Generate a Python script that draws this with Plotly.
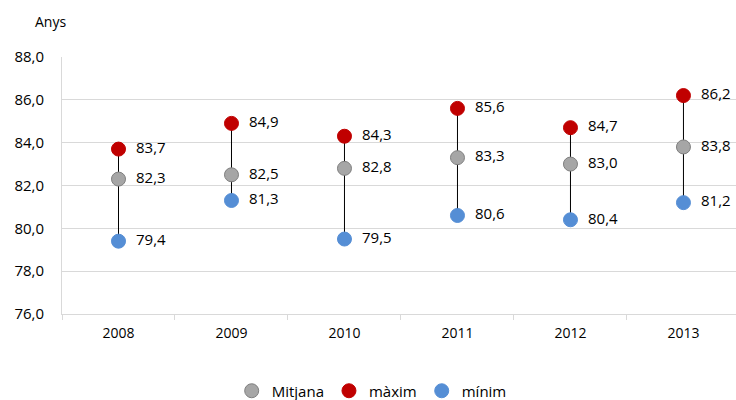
import plotly.graph_objects as go

years = ["2008", "2009", "2010", "2011", "2012", "2013"]
mitjana = [82.3, 82.5, 82.8, 83.3, 83.0, 83.8]
maxim = [83.7, 84.9, 84.3, 85.6, 84.7, 86.2]
minim = [79.4, 81.3, 79.5, 80.6, 80.4, 81.2]

FONT = "Open Sans"

def fmt(v):
    return "\u00a0\u00a0" + f"{v:.1f}".replace(".", ",")

# vertical connector lines min -> max
lx, ly = [], []
for y, lo, hi in zip(years, minim, maxim):
    lx += [y, y, None]
    ly += [lo, hi, None]

fig = go.Figure()
fig.add_trace(go.Scatter(x=lx, y=ly, mode="lines", line=dict(color="black", width=1),
                         showlegend=False, hoverinfo="skip"))

def add_series(name, vals, color, border):
    fig.add_trace(go.Scatter(
        x=years, y=vals, mode="markers+text", name=name,
        marker=dict(size=14, color=color, line=dict(color=border, width=1)),
        text=[fmt(v) for v in vals], textposition="middle right",
        textfont=dict(family=FONT, size=15, color="#000000"),
        cliponaxis=False,
    ))

add_series("Mitjana", mitjana, "#A6A6A6", "#7F7F7F")
add_series("màxim", maxim, "#C00000", "#C00000")
add_series("mínim", minim, "#558ED5", "#558ED5")

fig.update_layout(
    width=736, height=400,
    margin=dict(l=62, r=0, t=57, b=86, autoexpand=False),
    paper_bgcolor="white", plot_bgcolor="white",
    font=dict(family=FONT, size=14, color="#000000"),
    separators=",.",
    showlegend=True,
    legend=dict(orientation="h", x=0.505, xanchor="center", y=(400 - 391) / 400, yanchor="middle",
                yref="container", xref="container",
                font=dict(family=FONT, size=15), traceorder="normal",
                itemwidth=30, entrywidth=0),
    annotations=[dict(text="Anys", x=(33 - 62) / 674, y=(314 - 21) / 257,
                      xref="paper", yref="paper", showarrow=False,
                      font=dict(family=FONT, size=14), xanchor="left", yanchor="middle")],
)

fig.update_xaxes(type="category", range=[-0.5, 5.465], showgrid=False, automargin=False,
                 showline=True, linecolor="#D9D9D9", linewidth=1,
                 ticks="outside", tickson="boundaries", ticklen=5, tickcolor="#D9D9D9",
                 tickfont=dict(family=FONT, size=14), ticklabelstandoff=6)
fig.update_yaxes(range=[76, 88], dtick=2, tickformat=".1f", showgrid=True, gridcolor="#D9D9D9",
                 automargin=False,
                 showline=True, linecolor="#D9D9D9", linewidth=1, zeroline=False,
                 tickfont=dict(family=FONT, size=15), ticklabelstandoff=14)

fig.write_html("out.html", config={"displayModeBar": False},
               post_script="document.body.style.margin='0';document.body.style.overflow='hidden';")
